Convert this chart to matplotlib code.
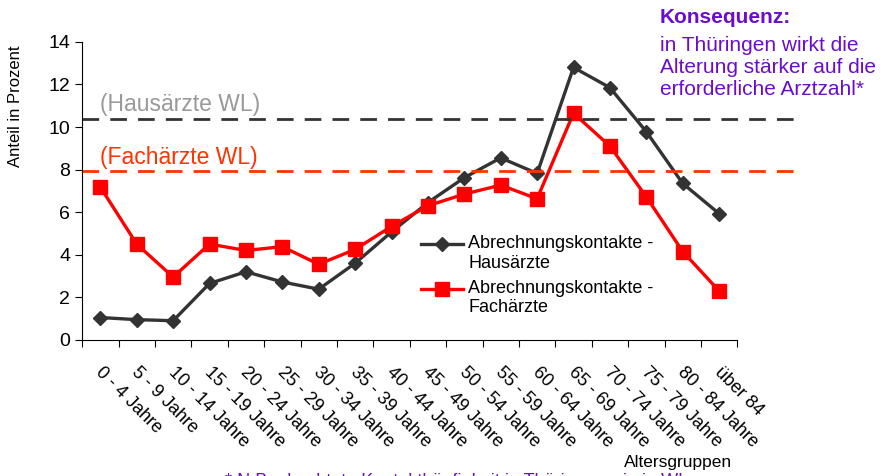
import numpy as np
import matplotlib.pyplot as plt

plt.rcParams['font.family'] = ['Liberation Sans', 'DejaVu Sans']

# Altersgruppen (x-axis categories)
groups = ['0 - 4 Jahre', '5 - 9 Jahre', '10 - 14 Jahre', '15 - 19 Jahre',
          '20 - 24 Jahre', '25 - 29 Jahre', '30 - 34 Jahre', '35 - 39 Jahre',
          '40 - 44 Jahre', '45 - 49 Jahre', '50 - 54 Jahre', '55 - 59 Jahre',
          '60 - 64 Jahre', '65 - 69 Jahre', '70 - 74 Jahre', '75 - 79 Jahre',
          '80 - 84 Jahre', 'über 84']

# Anteil in Prozent
hausaerzte = [1.05, 0.95, 0.9, 2.65, 3.2, 2.72, 2.38, 3.6, 5.07, 6.45,
              7.62, 8.55, 7.82, 12.8, 11.85, 9.78, 7.35, 5.93]
fachaerzte = [7.18, 4.5, 2.95, 4.5, 4.2, 4.38, 3.55, 4.25, 5.33, 6.3,
              6.85, 7.27, 6.63, 10.65, 9.1, 6.72, 4.15, 2.3]

# Vergleichswerte WL
wl_haus = 10.4
wl_fach = 7.93

purple = '#6a0dcc'
dark = '#333333'
red = '#ff0000'

fig = plt.figure(figsize=(8.83, 4.76), dpi=100)
ax = fig.add_axes([0.093, 0.286, 0.742, 0.626])

x = np.arange(len(groups))
ax.plot(x, hausaerzte, color=dark, lw=2.4, marker='D', ms=7,
        label='Abrechnungskontakte -\nHausärzte')
ax.plot(x, fachaerzte, color=red, lw=2.4, marker='s', ms=9.5,
        label='Abrechnungskontakte -\nFachärzte')

# reference lines reach beyond the plot area
ax.plot([-0.5, 19.05], [wl_haus, wl_haus], color='#333333', lw=2,
        dashes=(6, 4), clip_on=False)
ax.plot([-0.5, 19.05], [wl_fach, wl_fach], color='#ff3300', lw=2,
        dashes=(6, 4), clip_on=False)
ax.text(0.0, wl_haus + 0.35, '(Hausärzte WL)', color='#999999', fontsize=16.5)
ax.text(0.0, wl_fach + 0.35, '(Fachärzte WL)', color='#ff3300', fontsize=16.5)

ax.set_xlim(-0.5, len(groups) - 0.5)
ax.set_ylim(0, 14)
ax.set_yticks(range(0, 15, 2))
ax.set_xticks(np.arange(len(groups) + 1) - 0.5)
ax.set_xticklabels([])
ax.set_xticks(x + 0.1, minor=True)
ax.set_xticklabels(groups, minor=True, rotation=-45, ha='left', va='top',
                   rotation_mode='anchor', fontsize=13)
ax.tick_params(axis='x', which='minor', length=0, pad=17)
ax.tick_params(axis='x', which='major', length=5, direction='out')
ax.tick_params(axis='y', length=5, labelsize=14)
for s in ['top', 'right']:
    ax.spines[s].set_visible(False)

fig.text(0.018, 0.777, 'Anteil in Prozent', rotation=90, ha='center',
         va='center', fontsize=12)
fig.text(0.768, 0.018, 'Altersgruppen', ha='center', va='baseline',
         fontsize=12.5)

leg = ax.legend(loc='upper left', bbox_to_anchor=(0.467, 0.525),
                bbox_transform=fig.transFigure, frameon=False, fontsize=13,
                handlelength=2.3, handletextpad=0.3, labelspacing=0.45,
                borderpad=0)
# align the legend symbols with the first text line
for h in leg.legend_handles:
    h.set_ydata(np.asarray(h.get_ydata()) + 7)

fig.text(0.747, 0.983, 'Konsequenz:', color=purple, fontsize=15,
         fontweight='bold', va='top')
fig.text(0.747, 0.925, 'in Thüringen wirkt die\nAlterung stärker auf die\n'
         'erforderliche Arztzahl*', color=purple, fontsize=15, va='top',
         linespacing=1.2)

fig.text(0.255, -0.022, '* N Beobachtete Kontakthäufigkeit in Thüringen wie in WL',
         color=purple, fontsize=13, va='baseline')

fig.savefig('out.png')
